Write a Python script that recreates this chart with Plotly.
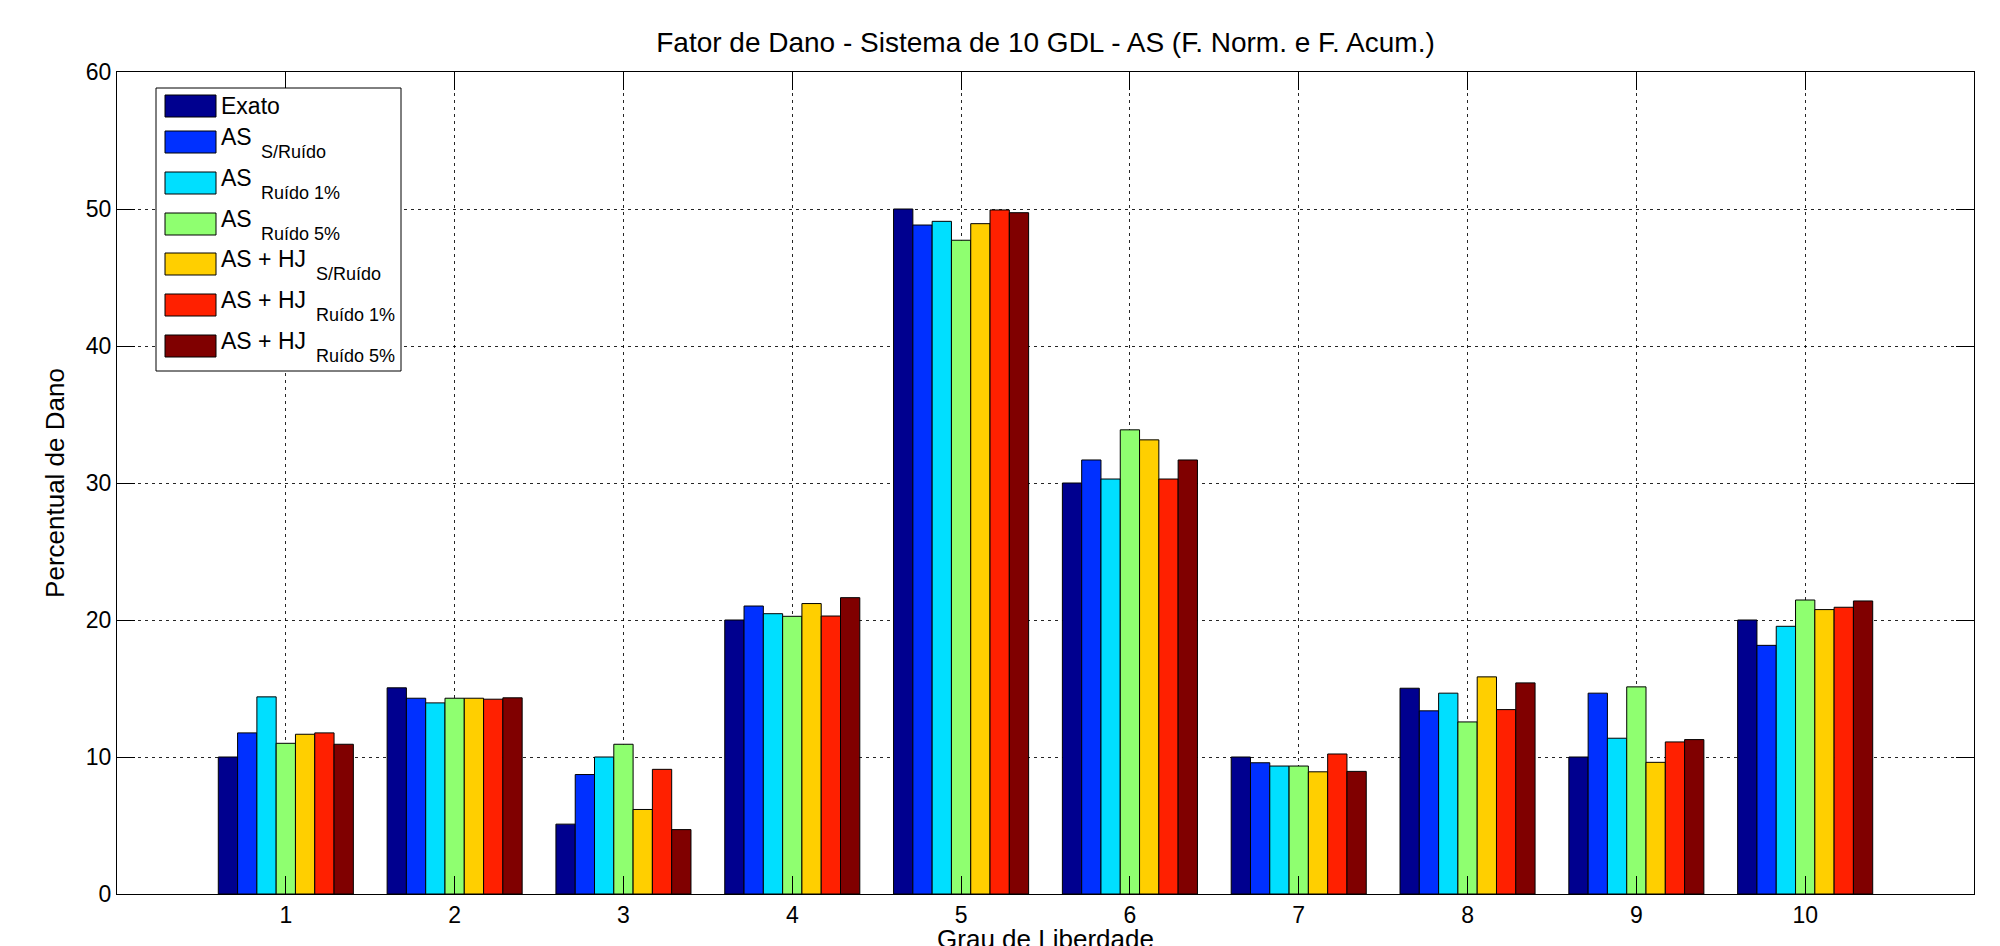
import plotly.graph_objects as go

# ---------------- data ----------------
categories = [1, 2, 3, 4, 5, 6, 7, 8, 9, 10]
exato = [10.0, 15.05, 5.1, 20.0, 50.0, 30.0, 10.0, 15.02, 10.0, 20.0]
as_sem_ruido = [11.76, 14.29, 8.72, 21.02, 48.83, 31.68, 9.58, 13.37, 14.66, 18.15]
as_ruido_1 = [14.39, 13.95, 10.0, 20.46, 49.1, 30.29, 9.34, 14.66, 11.37, 19.54]
as_ruido_5 = [11.0, 14.29, 10.93, 20.27, 47.72, 33.88, 9.34, 12.56, 15.12, 21.46]
ashj_sem_ruido = [11.66, 14.29, 6.17, 21.2, 48.93, 33.15, 8.92, 15.85, 9.61, 20.76]
ashj_ruido_1 = [11.76, 14.22, 9.1, 20.29, 49.93, 30.29, 10.22, 13.46, 11.1, 20.93]
ashj_ruido_5 = [10.93, 14.32, 4.7, 21.63, 49.73, 31.68, 8.95, 15.41, 11.27, 21.39]

series = [exato, as_sem_ruido, as_ruido_1, as_ruido_5,
          ashj_sem_ruido, ashj_ruido_1, ashj_ruido_5]
legend_main = ["Exato", "AS", "AS", "AS", "AS + HJ", "AS + HJ", "AS + HJ"]
legend_sub = ["", "S/Ruído", "Ruído 1%", "Ruído 5%", "S/Ruído", "Ruído 1%", "Ruído 5%"]
colors = ["rgb(0,0,143)", "rgb(0,48,255)", "rgb(0,223,255)", "rgb(143,255,112)",
          "rgb(255,207,0)", "rgb(255,32,0)", "rgb(128,0,0)"]

title_text = "Fator de Dano - Sistema de 10 GDL - AS (F. Norm. e F. Acum.)"
x_title = "Grau de Liberdade"
y_title = "Percentual de Dano"

# ---------------- layout geometry (pixels, page coords) ----------------
W, H = 2000, 946
OFF = 8  # default page body margin
L, R, T, B = 117 - OFF, 1974 - OFF, 72 - OFF, 894 - OFF
FONT = "Arial, Liberation Sans, sans-serif"


def px(xp):
    return (xp - OFF - L) / (R - L)


def py(yp):
    return (B - (yp - OFF)) / (B - T)


fig = go.Figure()
for name, sub, vals, col in zip(legend_main, legend_sub, series, colors):
    fig.add_trace(go.Bar(
        x=categories, y=vals, name=(name + " " + sub).strip(),
        marker=dict(color=col, line=dict(color="black", width=1)),
        showlegend=False,
    ))

grid_col = "rgba(0,0,0,0.85)"
fig.update_layout(
    width=W, height=H,
    margin=dict(l=L, r=W - R, t=T, b=H - B, pad=0, autoexpand=False),
    paper_bgcolor="white", plot_bgcolor="white",
    barmode="group", bargap=0.2, bargroupgap=0.0,
    font=dict(family=FONT, size=23, color="black"),
    title=dict(text=title_text, x=0.5, xref="paper", xanchor="center",
               y=1 - (42 - OFF) / H, yanchor="middle",
               font=dict(family=FONT, size=28, color="black")),
    xaxis=dict(range=[0, 11], tickvals=categories, ticktext=[str(c) for c in categories],
               automargin=False,
               showline=True, linecolor="black", linewidth=1, mirror="ticks",
               ticks="inside", ticklen=18, tickcolor="black", tickwidth=1,
               showgrid=True, gridcolor=grid_col, gridwidth=1, griddash="3px,4px",
               zeroline=False, tickfont=dict(size=23),
               title=dict(text=x_title, font=dict(size=26), standoff=22)),
    yaxis=dict(range=[0, 60], tickvals=[0, 10, 20, 30, 40, 50, 60],
               automargin=False,
               showline=True, linecolor="black", linewidth=1, mirror="ticks",
               ticks="inside", ticklen=18, tickcolor="black", tickwidth=1,
               showgrid=True, gridcolor=grid_col, gridwidth=1, griddash="3px,4px",
               zeroline=False, tickfont=dict(size=23),
               title=dict(text=y_title, font=dict(size=26), standoff=13)),
)

# ---------------- custom legend ----------------
shapes = [dict(type="rect", xref="paper", yref="paper",
               x0=px(156), x1=px(401), y0=py(88), y1=py(371),
               line=dict(color="black", width=1), fillcolor="white", layer="above")]
annotations = []
row_centers = [106, 142, 183, 224, 264, 305, 346]
for i, (main, sub, col) in enumerate(zip(legend_main, legend_sub, colors)):
    cy = row_centers[i]
    shapes.append(dict(type="rect", xref="paper", yref="paper",
                       x0=px(165), x1=px(216), y0=py(cy + 11), y1=py(cy - 11),
                       line=dict(color="black", width=1), fillcolor=col, layer="above"))
    main_y = cy if sub == "" else cy - 5
    annotations.append(dict(text=main, xref="paper", yref="paper", x=px(219), y=py(main_y),
                            xanchor="left", yanchor="middle", showarrow=False,
                            font=dict(family=FONT, size=23, color="black")))
    if sub:
        sx = 259 if main == "AS" else 314
        annotations.append(dict(text=sub, xref="paper", yref="paper", x=px(sx), y=py(cy + 10),
                                xanchor="left", yanchor="middle", showarrow=False,
                                font=dict(family=FONT, size=18, color="black")))

fig.update_layout(shapes=shapes, annotations=annotations)
fig.write_html("out.html")
